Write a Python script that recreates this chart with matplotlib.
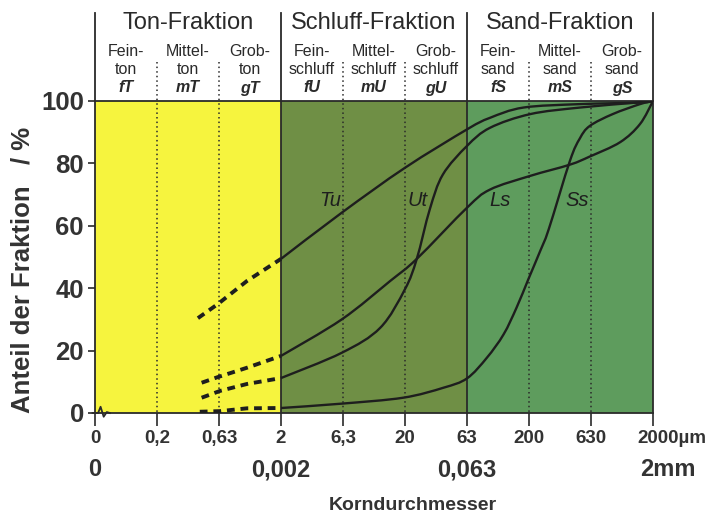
import matplotlib
matplotlib.use('Agg')
import numpy as np
import matplotlib.pyplot as plt
from matplotlib.path import Path
from matplotlib.patches import PathPatch
from matplotlib.transforms import ScaledTranslation, blended_transform_factory

plt.rcParams['font.family'] = ['Liberation Sans', 'DejaVu Sans']

# ---------------- data ----------------
tick_pos = [0, 1, 2, 3, 4, 5, 6, 7, 8, 9]
tick_labels = ["0", "0,2", "0,63", "2", "6,3", "20", "63", "200", "630", "2000µm"]
row2_pos = [0, 3, 6, 9]
row2_labels = ["0", "0,002", "0,063", "2mm"]

fractions = ["Ton-Fraktion", "Schluff-Fraktion", "Sand-Fraktion"]
frac_bounds = [(0, 3), (3, 6), (6, 9)]
frac_colors = ["#f6f43e", "#6f8f45", "#5e9c5d"]
sub_line1 = ["Fein-", "Mittel-", "Grob-", "Fein-", "Mittel-", "Grob-", "Fein-", "Mittel-", "Grob-"]
sub_line2 = ["ton", "ton", "ton", "schluff", "schluff", "schluff", "sand", "sand", "sand"]
sub_symbol = ["fT", "mT", "gT", "fU", "mU", "gU", "fS", "mS", "gS"]
dotted_pos = [1, 2, 4, 5, 7, 8]
solid_pos = [3, 6, 9]

tu_dash_x = [1.66, 1.98, 2.45, 3.0]
tu_dash_y = [30.4, 34.9, 42.3, 49.4]
tu_x = [3.0, 3.98, 5.0, 6.0, 6.37, 6.91, 7.82, 8.79, 9.0]
tu_y = [49.4, 64.2, 78.6, 90.9, 94.6, 97.9, 99.0, 99.5, 100]

ut_dash_x = [1.72, 2.02, 2.45, 3.0]
ut_dash_y = [4.9, 7.1, 9.3, 11.2]
ut_x = [3.0, 3.98, 4.6, 5.0, 5.19, 5.4, 5.61, 6.0, 6.37, 7.02, 7.82, 8.74, 9.0]
ut_y = [11.2, 19.3, 27.3, 39.7, 49.4, 65.3, 76.4, 85.6, 91.4, 95.8, 97.9, 99.5, 100]

ls_dash_x = [1.72, 1.98, 2.45, 3.0]
ls_dash_y = [9.7, 11.5, 14.5, 18.3]
ls_x = [3.0, 3.98, 4.76, 5.19, 6.0, 6.37, 7.02, 7.66, 7.98, 8.47, 8.79, 9.0]
ls_y = [18.3, 30.0, 42.3, 49.4, 65.8, 71.6, 76.0, 79.6, 82.2, 86.8, 92.6, 100]

ss_dash_x = [1.69, 2.02, 2.45, 3.0]
ss_dash_y = [0.4, 0.6, 1.5, 1.6]
ss_x = [3.0, 3.98, 4.97, 5.62, 6.0, 6.32, 6.59, 6.8, 6.99, 7.18, 7.32, 7.66, 7.82, 7.98, 8.35, 8.79, 9.0]
ss_y = [1.6, 3.0, 4.9, 8.1, 11.1, 17.7, 25.2, 33.8, 42.9, 51.9, 59.0, 80.8, 88.0, 92.0, 95.8, 99.0, 100]

curve_names = ["Tu", "Ut", "Ls", "Ss"]
curve_label_x = [3.79, 5.21, 6.53, 7.77]
curve_label_y = [68, 68, 68, 68]

yticks = [0, 20, 40, 60, 80, 100]

# ---------------- figure ----------------
W, H = 714, 518
fig = plt.figure(figsize=(W / 100, H / 100), dpi=100)
ax = fig.add_axes([95 / W, 1 - 413 / H, (653 - 95) / W, (413 - 101) / H])
ax.set_xlim(0, 9)
ax.set_ylim(0, 100)
dark = "#2a2a2a"

for (a, b), c in zip(frac_bounds, frac_colors):
    ax.axvspan(a, b, color=c, lw=0, zorder=0)

ppx = 3.12  # px per percent
def py2d(py):
    return (413 - py) / ppx

for x in dotted_pos:
    ax.plot([x, x], [py2d(62), 0], color=dark, lw=1.1, ls=(0, (1, 2)), clip_on=False, zorder=2)
for x in solid_pos:
    ax.plot([x, x], [py2d(13), 0], color=dark, lw=1.3, clip_on=False, zorder=2)
ax.plot([0, 0], [py2d(13), 0], color=dark, lw=1.3, clip_on=False, zorder=2)
ax.plot([0, 9], [100, 100], color=dark, lw=1.3, clip_on=False, zorder=2)


def smooth_path(xs, ys):
    """Catmull-Rom curve through the read points, drawn as Bezier segments."""
    pts = np.column_stack([xs, ys]).astype(float)
    n = len(pts)
    verts = [pts[0]]
    codes = [Path.MOVETO]
    for i in range(n - 1):
        p0 = pts[i - 1] if i > 0 else pts[i]
        p1 = pts[i]
        p2 = pts[i + 1]
        p3 = pts[i + 2] if i + 2 < n else pts[i + 1]
        c1 = p1 + (p2 - p0) / 6.0
        c2 = p2 - (p3 - p1) / 6.0
        verts += [c1, c2, p2]
        codes += [Path.CURVE4] * 3
    return Path(verts, codes)


dash_kw = dict(color="#1e1e1e", lw=2.8, dashes=[2.0, 1.5], solid_capstyle='butt', zorder=3)
for dx, dy, sx, sy in [(tu_dash_x, tu_dash_y, tu_x, tu_y),
                       (ut_dash_x, ut_dash_y, ut_x, ut_y),
                       (ls_dash_x, ls_dash_y, ls_x, ls_y),
                       (ss_dash_x, ss_dash_y, ss_x, ss_y)]:
    ax.plot(dx, dy, **dash_kw)
    ax.add_patch(PathPatch(smooth_path(sx, sy), fill=False, edgecolor="#1e1e1e",
                           lw=1.7, zorder=3))

for name, lx, ly in zip(curve_names, curve_label_x, curve_label_y):
    ax.text(lx, ly, name, ha='center', va='center', fontsize=14.5, style='italic',
            color="#1e1e1e", zorder=4)

# header texts
for (a, b), name in zip(frac_bounds, fractions):
    ax.text((a + b) / 2, py2d(23), name, ha='center', va='center', fontsize=17,
            color=dark, clip_on=False)
for i in range(9):
    xc = i + 0.5
    ax.text(xc, py2d(52), sub_line1[i], ha='center', va='center', fontsize=11.5, color=dark)
    ax.text(xc, py2d(70), sub_line2[i], ha='center', va='center', fontsize=11.5, color=dark)
    ax.text(xc, py2d(88), sub_symbol[i], ha='center', va='center', fontsize=11.5,
            style='italic', weight='bold', color=dark)

# spines and ticks
for s in ['top', 'right', 'left']:
    ax.spines[s].set_visible(False)
ax.spines['bottom'].set_color(dark)
ax.spines['bottom'].set_linewidth(1.3)

ax.set_yticks(yticks)
ax.set_yticklabels([str(v) for v in yticks])
ax.tick_params(axis='y', direction='out', length=5, width=1.2, color=dark, pad=3,
               labelsize=18.5, labelcolor="#333333")
for lab in ax.get_yticklabels():
    lab.set_fontweight('bold')

ax.set_xticks(tick_pos)
ax.set_xticklabels(tick_labels)
ax.tick_params(axis='x', direction='out', length=9, width=1.2, color=dark, pad=3,
               labelsize=13.5, labelcolor="#333333")
for lab in ax.get_xticklabels():
    lab.set_fontweight('bold')
last = ax.get_xticklabels()[-1]
last.set_transform(last.get_transform() + ScaledTranslation(19 / 100, 0, fig.dpi_scale_trans))

# second row of x labels
tr = blended_transform_factory(ax.transData, ax.transAxes)
for p, l in zip(row2_pos, row2_labels):
    if l == "2mm":
        ax.text(p - 0.21, (413 - 470) / 312, l, transform=tr, ha='left', va='center',
                fontsize=17, weight='bold', color="#333333")
    else:
        ax.text(p, (413 - 470) / 312, l, transform=tr, ha='center', va='center',
                fontsize=17, weight='bold', color="#333333")

# axis break zigzag at origin
zx = [-0.04, 0.05, 0.09, 0.14, 0.19, 0.24]
zy = [0, 0, 2.0, -1.2, 0.3, 0]
ax.plot(zx, zy, color=dark, lw=1.3, clip_on=False, zorder=5)

# axis titles
fig.text(413 / W, 1 - 505 / H, "Korndurchmesser", ha='center', va='center',
         fontsize=14, weight='bold', color="#333333")
fig.text(23 / W, 1 - 270 / H, "Anteil der Fraktion   / %", ha='center', va='center',
         rotation=90, fontsize=18.5, weight='bold', color="#333333")

fig.savefig("out.png", dpi=100)
